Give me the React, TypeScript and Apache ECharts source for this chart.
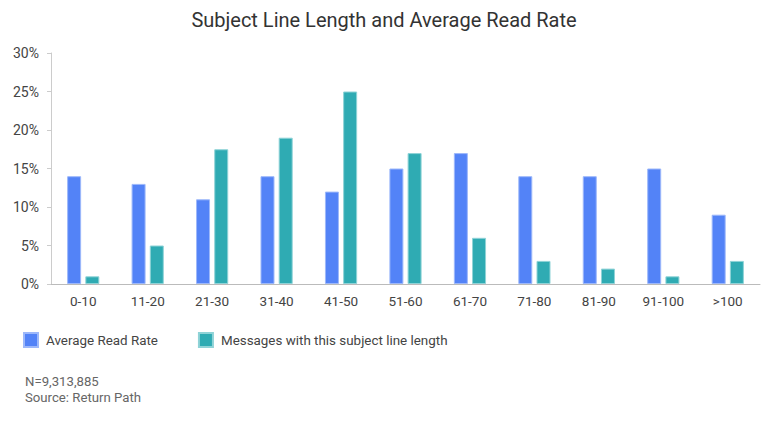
import React, { useEffect, useRef } from "react";
import * as echarts from "echarts";

const categories = ["0-10", "11-20", "21-30", "31-40", "41-50", "51-60", "61-70", "71-80", "81-90", "91-100", ">100"];
const readRate = [14, 13, 11, 14, 12, 15, 17, 14, 14, 15, 9];
const messagesShare = [1, 5, 17.5, 19, 25, 17, 6, 3, 2, 1, 3];
const seriesNames = ["Average Read Rate", "Messages with this subject line length"];
const footnotes = ["N=9,313,885", "Source: Return Path"];

const FONT = "Roboto, 'Noto Sans', sans-serif";

export default function App() {
  const ref = useRef<HTMLDivElement>(null);
  useEffect(() => {
    if (!ref.current) return;
    const chart = echarts.init(ref.current, undefined, { renderer: "svg" });
    chart.setOption({
      animation: false,
      backgroundColor: "#ffffff",
      textStyle: { fontFamily: FONT },
      title: {
        text: "Subject Line Length and Average Read Rate",
        left: "center",
        top: 5,
        textStyle: { fontFamily: FONT, fontSize: 20, fontWeight: "normal", color: "#333333" },
      },
      legend: {
        left: 18,
        top: 327,
        itemWidth: 14,
        itemHeight: 14,
        itemGap: 40,
        icon: "rect",
        textStyle: { fontFamily: FONT, fontSize: 13.4, color: "#444444", padding: [0, 0, 0, 3] },
        data: seriesNames,
      },
      grid: { left: 51, right: 8, top: 53, bottom: 141, containLabel: false },
      xAxis: {
        type: "category",
        data: categories,
        axisLine: { lineStyle: { color: "#bbbbbb" } },
        axisTick: { show: false },
        axisLabel: { fontFamily: FONT, fontSize: 13.5, color: "#444444", margin: 10 },
      },
      yAxis: {
        type: "value",
        min: 0,
        max: 30,
        interval: 5,
        axisLine: { show: true, lineStyle: { color: "#cccccc" } },
        axisTick: { show: true, length: 4, lineStyle: { color: "#cccccc" } },
        splitLine: { show: false },
        axisLabel: { fontFamily: FONT, fontSize: 14, color: "#444444", formatter: "{value}%", margin: 12 },
      },
      series: [
        {
          name: seriesNames[0],
          type: "bar",
          data: readRate,
          barWidth: 14,
          barGap: "30%",
          itemStyle: { color: "#5383F7", borderColor: "#9db8fa", borderWidth: 1 },
        },
        {
          name: seriesNames[1],
          type: "bar",
          data: messagesShare,
          barWidth: 14,
          barGap: "30%",
          itemStyle: { color: "#2FABB3", borderColor: "#8fd3d7", borderWidth: 1 },
        },
      ],
      graphic: [
        {
          type: "text",
          left: 25,
          top: 373,
          style: { text: footnotes.join("\n"), fontFamily: FONT, fontSize: 13.2, lineHeight: 16, fill: "#666666" },
        },
      ],
    });
    return () => chart.dispose();
  }, []);
  return <div ref={ref} style={{ width: 768, height: 425, position: "absolute", left: 0, top: 0 }} />;
}
